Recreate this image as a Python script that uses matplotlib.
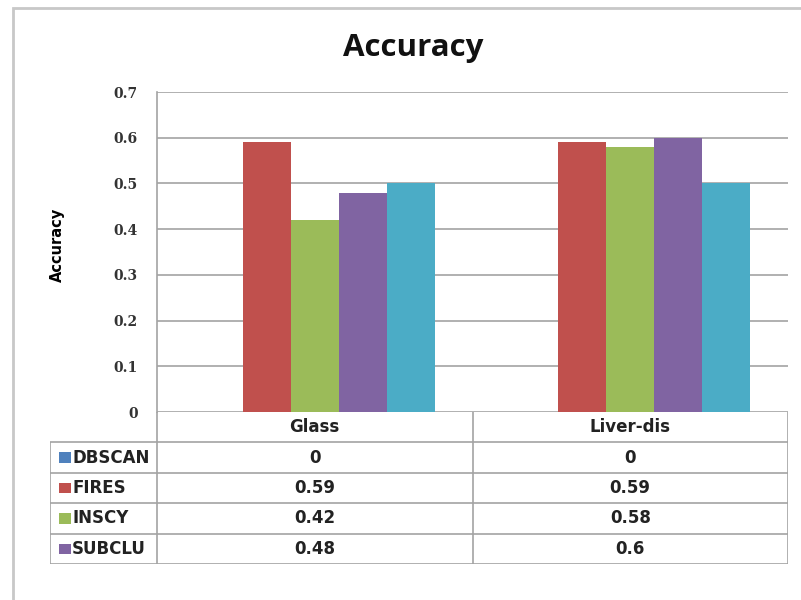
import matplotlib
matplotlib.use("Agg")
import matplotlib.pyplot as plt
from matplotlib.patches import Rectangle
from matplotlib.lines import Line2D

categories = ["Glass", "Liver-dis"]
series_names = ["DBSCAN", "FIRES", "INSCY", "SUBCLU"]
dbscan = [0, 0]
fires = [0.59, 0.59]
inscy = [0.42, 0.58]
subclu = [0.48, 0.6]
# fifth series is drawn in the chart but its table row is cut off in the original
fifth = [0.5, 0.5]

series_values = [dbscan, fires, inscy, subclu, fifth]
colors = ["#4F81BD", "#C0504D", "#9BBB59", "#8064A2", "#4BACC6"]
yticks = [0, 0.1, 0.2, 0.3, 0.4, 0.5, 0.6, 0.7]

grid_col = "#A3A3A3"
W, H = 801, 600
fig = plt.figure(figsize=(W / 100, H / 100), dpi=100)

# outer chart border
fig.add_artist(Rectangle((13 / W, -0.1), 1.1, (H - 8) / H + 0.1, transform=fig.transFigure,
                         fill=False, edgecolor="#C8C8C8", linewidth=2))

left, right, top, bottom = 157, 788, 92, 412
ax = fig.add_axes([left / W, 1 - bottom / H, (right - left) / W, (bottom - top) / H])

bar_w = 0.152
n = len(series_values)
for i, (vals, c) in enumerate(zip(series_values, colors)):
    xs = [k + (i - (n - 1) / 2) * bar_w for k in range(len(categories))]
    ax.bar(xs, vals, width=bar_w, color=c, zorder=3, linewidth=0)

ax.set_xlim(-0.5, len(categories) - 0.5)
ax.set_ylim(0, 0.7)
ax.set_yticks(yticks)
ax.set_yticklabels([f"{t:g}" for t in yticks], fontfamily="DejaVu Serif",
                   fontweight="bold", fontsize=10, color="#333333")
ax.tick_params(axis="y", length=0, pad=14)
ax.set_xticks([])
ax.grid(axis="y", color=grid_col, linewidth=1.2, zorder=0)
for s in ["top", "right", "bottom"]:
    ax.spines[s].set_visible(False)
ax.spines["left"].set_color(grid_col)
ax.spines["left"].set_linewidth(1.2)

fig.text(413 / W, 1 - 48 / H, "Accuracy", ha="center", va="center",
         fontsize=22.5, fontweight="bold", fontfamily="Open Sans", color="#111111")
fig.text(57 / W, 1 - 245 / H, "Accuracy", rotation=90, ha="center", va="center",
         fontsize=10.5, fontweight="bold", fontfamily="Liberation Sans Narrow")

# data table below the chart
tab_left, tab_bottom = 50, 564
px_per_cat = (right - left) / len(categories)
x0 = -0.5 - (left - tab_left) / px_per_cat
tax = fig.add_axes([tab_left / W, 1 - tab_bottom / H, (right - tab_left) / W, (tab_bottom - bottom) / H])
nrows = len(series_names) + 1
tax.set_xlim(x0, len(categories) - 0.5)
tax.set_ylim(-nrows, 0)
tax.axis("off")

lk = dict(color=grid_col, linewidth=1.2, solid_capstyle="butt")
for r in range(1, nrows + 1):
    tax.add_line(Line2D([x0, len(categories) - 0.5], [-r, -r], **lk))
tax.add_line(Line2D([x0, x0], [-1, -nrows], **lk))
for k in range(len(categories) + 1):
    tax.add_line(Line2D([k - 0.5, k - 0.5], [0, -nrows], **lk))

tfont = dict(fontfamily="Liberation Sans Narrow", fontweight="bold", fontsize=12, color="#222222")
for k, cat in enumerate(categories):
    tax.text(k, -0.5, cat, ha="center", va="center", **tfont)
for r, (name, vals, c) in enumerate(zip(series_names, series_values, colors)):
    y = -1.5 - r
    tax.add_patch(Rectangle((x0 + 0.03, y - 0.17), 0.035, 0.34, color=c, linewidth=0))
    tax.text(x0 + 0.07, y, name, ha="left", va="center", **tfont)
    for k, v in enumerate(vals):
        tax.text(k, y, f"{v:g}", ha="center", va="center", **tfont)

fig.savefig("out.png", dpi=100)
